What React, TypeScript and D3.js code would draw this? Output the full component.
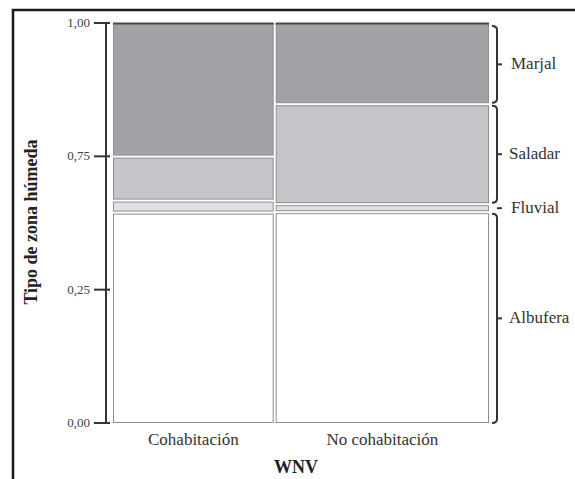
import { useEffect, useRef } from 'react';
import * as d3 from 'd3';

const groups = ['Cohabitación', 'No cohabitación'];
const groupShare = [0.43, 0.57];
const zones = ['Albufera', 'Fluvial', 'Saladar', 'Marjal'];
const cohabitacion = [0.526, 0.03, 0.11, 0.334];
const noCohabitacion = [0.527, 0.02, 0.25, 0.203];
const tickLabels = ['0,00', '0,25', '0,75', '1,00'];
const zoneColors = ['#ffffff', '#e0e1e3', '#c4c5c8', '#a1a2a6'];

export default function App() {
  const ref = useRef<SVGSVGElement>(null);

  useEffect(() => {
    const svg = d3.select(ref.current);
    svg.selectAll('*').remove();

    const width = 575;
    const height = 479;
    const font = "'Liberation Serif', 'DejaVu Serif', serif";
    const left = 113;
    const right = 489;
    const top = 23;
    const bottom = 423;
    const gap = 2;

    svg.append('rect').attr('width', width).attr('height', height).attr('fill', '#fff');

    // frame
    svg.append('path')
      .attr('d', `M13,${height + 5} L13,10 L${width + 5},10`)
      .attr('fill', 'none')
      .attr('stroke', '#1a1a1a')
      .attr('stroke-width', 2.5);

    const y = d3.scaleLinear().domain([0, 1]).range([bottom, top]);
    const cum = d3.cumsum([0, ...groupShare]);
    const x = d3.scaleLinear().domain([0, 1]).range([left, right]);
    const series = [cohabitacion, noCohabitacion];

    const g = svg.append('g');
    groups.forEach((grp, gi) => {
      const x0 = x(cum[gi]) + (gi > 0 ? gap / 2 : 0);
      const x1 = x(cum[gi + 1]) - (gi < groups.length - 1 ? gap / 2 : 0);
      const stack = d3.cumsum([0, ...series[gi]]);
      zones.forEach((z, zi) => {
        const yb = y(stack[zi]) - (zi > 0 ? gap / 2 : 0);
        const yt = y(stack[zi + 1]) + (zi < zones.length - 1 ? gap / 2 : 0);
        g.append('rect')
          .attr('x', x0 + 0.5)
          .attr('y', yt + 0.5)
          .attr('width', x1 - x0 - 1)
          .attr('height', Math.max(0, yb - yt - 1))
          .attr('fill', zoneColors[zi])
          .attr('stroke', '#8e8e90')
          .attr('stroke-width', 1);
      });
      // dark top edge
      g.append('line')
        .attr('x1', x0).attr('x2', x1)
        .attr('y1', y(1) + 0.5).attr('y2', y(1) + 0.5)
        .attr('stroke', '#4a4a4a')
        .attr('stroke-width', 2);

      g.append('text')
        .attr('x', (x0 + x1) / 2)
        .attr('y', 445)
        .attr('text-anchor', 'middle')
        .style('font-family', font)
        .attr('font-size', 17)
        .attr('fill', '#333')
        .text(grp);
    });

    // y axis with evenly spaced tick labels
    const yt = d3.scalePoint<string>().domain(tickLabels).range([bottom, top]);
    const axis = svg.append('g');
    axis.append('line')
      .attr('x1', 106).attr('x2', 106)
      .attr('y1', top).attr('y2', bottom)
      .attr('stroke', '#333').attr('stroke-width', 2);
    tickLabels.forEach((t) => {
      axis.append('line')
        .attr('x1', 94).attr('x2', 110)
        .attr('y1', yt(t)!).attr('y2', yt(t)!)
        .attr('stroke', '#333').attr('stroke-width', 2);
      axis.append('text')
        .attr('x', 90)
        .attr('y', yt(t)! + 4)
        .attr('text-anchor', 'end')
        .style('font-family', font)
        .attr('font-size', 13)
        .attr('fill', '#444')
        .text(t);
    });

    // braces for the right column
    const bx = 497;
    const lastStack = d3.cumsum([0, ...noCohabitacion]);
    zones.forEach((z, zi) => {
      const yb = y(lastStack[zi]) - (zi > 0 ? 1.5 : 0);
      const ytop = y(lastStack[zi + 1]) + (zi < zones.length - 1 ? 1.5 : 3);
      const mid = (yb + ytop) / 2;
      const big = yb - ytop > 14;
      if (big) {
        svg.append('path')
          .attr('d', `M${bx - 5},${ytop} Q${bx},${ytop} ${bx},${ytop + 4} L${bx},${yb - 4} Q${bx},${yb} ${bx - 5},${yb}`)
          .attr('fill', 'none')
          .attr('stroke', '#333')
          .attr('stroke-width', 2);
      }
      svg.append('line')
        .attr('x1', bx).attr('x2', bx + 5)
        .attr('y1', mid).attr('y2', mid)
        .attr('stroke', '#333').attr('stroke-width', 2);
      svg.append('text')
        .attr('x', bx + (zi === 2 || zi === 0 ? 12 : 14))
        .attr('y', mid + 5)
        .style('font-family', font)
        .attr('font-size', 17)
        .attr('fill', '#333')
        .text(z);
    });

    // axis titles
    svg.append('text')
      .attr('x', 296)
      .attr('y', 473)
      .attr('text-anchor', 'middle')
      .style('font-family', font)
      .attr('font-size', 18)
      .attr('font-weight', 'bold')
      .attr('fill', '#222')
      .text('WNV');

    svg.append('text')
      .attr('transform', 'translate(37,222) rotate(-90)')
      .attr('text-anchor', 'middle')
      .style('font-family', font)
      .attr('font-size', 18)
      .attr('font-weight', 'bold')
      .attr('fill', '#222')
      .text('Tipo de zona húmeda');
  }, []);

  return (
    <div style={{ position: 'absolute', left: 0, top: 0 }}>
      <svg ref={ref} width={575} height={479} style={{ display: 'block' }} />
    </div>
  );
}
